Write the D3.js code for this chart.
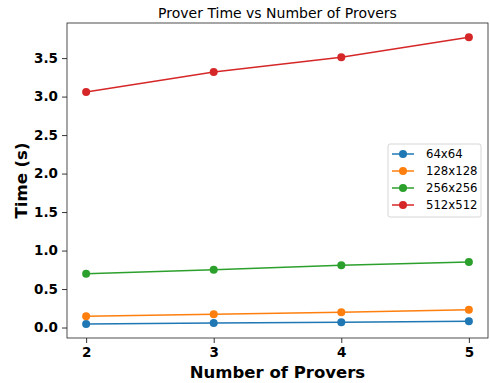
<!DOCTYPE html>
<html>
<head>
<meta charset="utf-8">
<script src="https://cdn.jsdelivr.net/npm/d3@7"></script>
<style>
  body { margin: 0; background: #fff; }
  text { font-family: "DejaVu Sans", sans-serif; }
</style>
</head>
<body>
<div id="chart"></div>
<script>
// data
const provers = [2, 3, 4, 5];
const seriesNames = ["64x64", "128x128", "256x256", "512x512"];
const t64 = [0.046, 0.058, 0.068, 0.081];
const t128 = [0.148, 0.172, 0.197, 0.232];
const t256 = [0.70, 0.75, 0.81, 0.85];
const t512 = [3.06, 3.32, 3.51, 3.77];
const yTicks = [0.0, 0.5, 1.0, 1.5, 2.0, 2.5, 3.0, 3.5];
const colors = ["#1f77b4", "#ff7f0e", "#2ca02c", "#d62728"];

const series = [t64, t128, t256, t512].map((vals, i) => ({
  name: seriesNames[i],
  color: colors[i],
  points: vals.map((v, j) => ({ x: provers[j], y: v }))
}));

const width = 490, height = 383;
const margin = { top: 23, right: 2, bottom: 45, left: 67 };

const svg = d3.select("#chart").append("svg")
  .attr("width", width)
  .attr("height", height);

const x = d3.scaleLinear().domain([1.85, 5.15]).range([margin.left, width - margin.right]);
const y = d3.scaleLinear().domain([-0.136, 3.956]).range([height - margin.bottom, margin.top]);

// axes
const xAxis = svg.append("g")
  .attr("transform", `translate(0,${height - margin.bottom})`)
  .call(d3.axisBottom(x).tickValues(provers).tickFormat(d3.format("d")).tickSize(5).tickPadding(4).tickSizeOuter(0));
const yAxis = svg.append("g")
  .attr("transform", `translate(${margin.left},0)`)
  .call(d3.axisLeft(y).tickValues(yTicks).tickFormat(d3.format(".1f")).tickSize(5).tickPadding(4).tickSizeOuter(0));

[xAxis, yAxis].forEach(g => {
  g.select(".domain").remove();
  g.selectAll("text")
    .style("font-family", "DejaVu Sans, sans-serif")
    .style("font-size", "13.5px")
    .style("font-weight", "bold")
    .attr("fill", "#000");
  g.selectAll("line").attr("stroke", "#000").attr("stroke-width", 0.8);
});
xAxis.selectAll("text").attr("dy", "0.76em");

// frame
svg.append("rect")
  .attr("x", margin.left)
  .attr("y", margin.top)
  .attr("width", width - margin.left - margin.right)
  .attr("height", height - margin.top - margin.bottom)
  .attr("fill", "none")
  .attr("stroke", "#222")
  .attr("stroke-width", 0.8);

const line = d3.line().x(d => x(d.x)).y(d => y(d.y));

const groups = svg.append("g").selectAll("g")
  .data(series)
  .enter().append("g");

groups.append("path")
  .attr("d", d => line(d.points))
  .attr("fill", "none")
  .attr("stroke", d => d.color)
  .attr("stroke-width", 1.5);

groups.selectAll("circle")
  .data(d => d.points.map(p => ({ ...p, color: d.color })))
  .enter().append("circle")
  .attr("cx", d => x(d.x))
  .attr("cy", d => y(d.y))
  .attr("r", 4)
  .attr("fill", d => d.color);

// title and labels
svg.append("text")
  .attr("x", (margin.left + width - margin.right) / 2)
  .attr("y", 18)
  .attr("text-anchor", "middle")
  .style("font-size", "14px")
  .text("Prover Time vs Number of Provers");

svg.append("text")
  .attr("x", (margin.left + width - margin.right) / 2)
  .attr("y", 378)
  .attr("text-anchor", "middle")
  .style("font-size", "16.5px")
  .style("font-weight", "bold")
  .text("Number of Provers");

svg.append("text")
  .attr("transform", `translate(27,${(margin.top + height - margin.bottom) / 2}) rotate(-90)`)
  .attr("text-anchor", "middle")
  .style("font-size", "16.5px")
  .style("font-weight", "bold")
  .text("Time (s)");

// legend
const legend = svg.append("g").attr("transform", "translate(388,144)");
legend.append("rect")
  .attr("width", 93)
  .attr("height", 73)
  .attr("rx", 2)
  .attr("fill", "#fff")
  .attr("fill-opacity", 0.8)
  .attr("stroke", "#ccc")
  .attr("stroke-width", 0.8);

const items = legend.selectAll(".item")
  .data(series)
  .enter().append("g")
  .attr("transform", (d, i) => `translate(0,${10 + i * 17})`);
items.append("line")
  .attr("x1", 4).attr("x2", 26)
  .attr("stroke", d => d.color)
  .attr("stroke-width", 1.5);
items.append("circle")
  .attr("cx", 15).attr("r", 4)
  .attr("fill", d => d.color);
items.append("text")
  .attr("x", 38)
  .attr("dy", "0.35em")
  .style("font-size", "11.7px")
  .text(d => d.name);
</script>
</body>
</html>
